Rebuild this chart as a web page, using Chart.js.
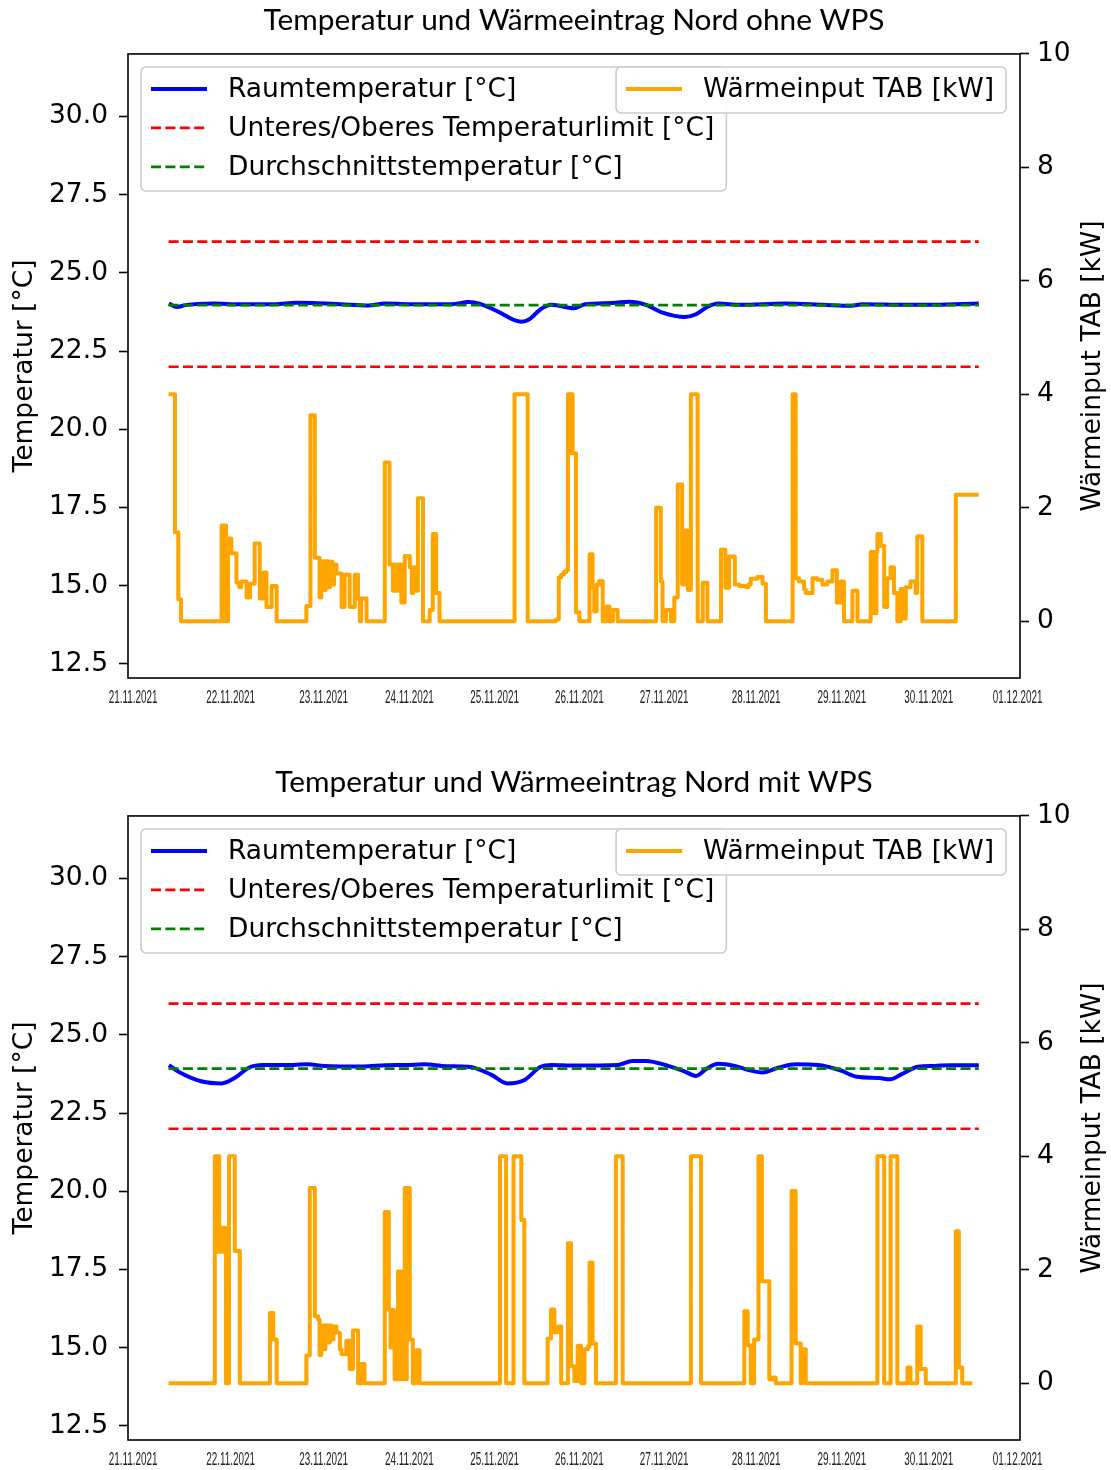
<!DOCTYPE html>
<html>
<head>
<meta charset="utf-8">
<script src="https://cdn.jsdelivr.net/npm/chart.js@4.4.1/dist/chart.umd.min.js"></script>
<style>
html,body{margin:0;padding:0;background:#fff;}
#wrap{position:relative;width:1111px;height:1470px;overflow:hidden;}
canvas{position:absolute;left:0;}
#c1{top:0;}
#c2{top:762px;}
</style>
</head>
<body>
<div id="wrap">
<canvas id="c1" width="1111" height="735"></canvas>
<canvas id="c2" width="1111" height="708"></canvas>
</div>
<script>
// ---------- DATA ----------
const titleOhne = 'Temperatur und Wärmeeintrag Nord ohne WPS';
const titleMit = 'Temperatur und Wärmeeintrag Nord mit WPS';
const leftAxisTitle = 'Temperatur [°C]';
const rightAxisTitle = 'Wärmeinput TAB [kW]';

// x axis: hours since start of period (21.11.2021, 10 days of data)
const xTickHours = [-10.5, 18.4, 45.9, 71.3, 96.5, 121.6, 146.7, 173.9, 199.3, 225.0, 251.3];
const xTickLabels = ['21.11.2021','22.11.2021','23.11.2021','24.11.2021','25.11.2021','26.11.2021','27.11.2021','28.11.2021','29.11.2021','30.11.2021','01.12.2021'];
const tempTicks = [12.5, 15, 17.5, 20, 22.5, 25, 27.5, 30];
const kwTicks = [0, 2, 4, 6, 8, 10];

const periodStart = 0, periodEnd = 239.8;
const upperLimit = 26, lowerLimit = 22;
const avgOhne = 23.97, avgMit = 23.92;

// Raumtemperatur, ohne WPS
const tempHoursOhne = [0.1, 2.5, 5.0, 13.2, 21.4, 31.3, 37.9, 42.8, 51.0, 59.2, 64.1, 74.0, 83.8, 88.8, 92.0, 97.0, 104.4, 106.8, 110.1, 113.4, 119.9, 123.3, 131.4, 136.4, 141.3, 146.2, 152.8, 156.1, 159.4, 162.7, 169.2, 182.4, 193.8, 202.1, 205.3, 218.5, 226.7, 239.8];
const tempOhne = [24.02, 23.91, 23.97, 24.02, 24.00, 24.00, 24.05, 24.04, 24.00, 23.96, 24.02, 24.00, 24.00, 24.07, 24.02, 23.79, 23.44, 23.52, 23.84, 23.98, 23.87, 24.00, 24.04, 24.08, 23.98, 23.73, 23.59, 23.68, 23.91, 24.02, 23.98, 24.02, 23.98, 23.95, 24.00, 23.98, 23.98, 24.02];

// Wärmeinput TAB, ohne WPS (change points, value holds until next point)
const tabHoursOhne = [0, 1.9, 2.9, 3.7,
  15.7, 16.2, 16.5, 17.0, 17.6, 18.6, 20.1, 20.9, 21.5, 23.1, 24.1, 25.5, 27.0, 28.0, 29.0, 30.5, 32.0,
  40.8, 42.0, 43.3, 44.7, 45.2, 46.0, 46.5, 47.3, 47.8, 48.5, 49.0, 49.7, 51.2, 52.1, 53.6, 55.1, 56.1, 56.6, 57.0, 58.6,
  64.0, 65.4, 66.4, 67.2, 67.9, 68.4, 68.9, 69.9, 71.4, 72.0, 72.4, 72.8, 73.8, 75.3, 77.3, 78.2, 79.2, 80.2,
  102.4, 106.3, 114.7, 115.5, 116.2, 117.0, 117.7, 118.2, 118.7, 119.0, 119.6, 120.6, 121.6,
  124.6, 125.5, 126.0, 126.7, 127.5, 128.5, 129.5, 130.5, 131.5, 132.9,
  144.3, 145.7, 146.2, 147.2, 148.7, 149.7, 150.7, 152.0, 152.4, 152.9, 153.3, 153.7, 154.6, 156.6, 158.1, 159.5,
  163.5, 164.8, 165.9, 167.6, 168.9, 170.9, 171.6, 172.3, 174.3, 175.8, 176.8,
  184.7, 185.6, 186.6, 188.1, 188.6, 190.6, 192.0, 193.5, 195.0, 196.5, 197.8, 198.9, 199.9,
  202.4, 203.9, 207.8, 208.8, 209.5, 209.8, 210.8, 211.8, 212.7, 213.7, 214.7, 215.7, 216.7, 217.7, 218.2, 219.6, 221.1, 221.6, 223.1,
  233.0, 239.8];
const tabOhne = [4.0, 1.57, 0.39, 0,
  1.69, 0, 1.69, 0, 1.46, 1.2, 0.68, 0.6, 0.7, 0.42, 0.66, 1.37, 0.4, 0.86, 0.25, 0.62, 0,
  0.27, 3.63, 1.12, 0.42, 1.06, 0.55, 1.06, 0.6, 1.05, 0.65, 1.0, 0.84, 0.25, 0.82, 0.25, 0.82, 0.4, 0, 0.4, 0,
  2.8, 1.0, 0.54, 1.0, 0.54, 1.0, 0.33, 1.15, 0.95, 0.5, 0.95, 0.54, 2.17, 0, 0.2, 1.54, 0.5, 0,
  4.0, 0, 0.03, 0.77, 0.82, 0.87, 0.9, 4.0, 2.96, 4.0, 2.96, 0.16, 0,
  1.18, 0.6, 0.17, 0.65, 0.71, 0, 0.26, 0, 0.2, 0,
  2.0, 0.7, 0, 0.2, 0, 0.42, 2.41, 0.65, 1.6, 0.65, 1.6, 0.55, 4.0, 0, 0.68, 0,
  1.26, 0.59, 1.14, 0.65, 0.62, 0.6, 0.65, 0.75, 0.78, 0.66, 0,
  4.0, 0.76, 0.7, 0.56, 0.5, 0.76, 0.73, 0.65, 0.7, 0.9, 0.33, 0.7, 0,
  0.54, 0, 1.22, 0.14, 1.22, 1.54, 1.33, 0.25, 0.76, 0.95, 0.5, 0, 0.57, 0.05, 0.6, 0.7, 0.5, 1.5, 0,
  2.23, 2.23];

// Raumtemperatur, mit WPS
const tempHoursMit = [0.1, 3.37, 9.94, 15.69, 19.79, 23.90, 28.00, 34.57, 41.14, 46.07, 57.56, 64.13, 70.70, 75.63, 82.20, 88.76, 95.33, 100.26, 105.19, 110.11, 113.40, 119.97, 133.10, 137.21, 141.31, 147.88, 152.81, 156.09, 159.38, 162.66, 167.59, 170.87, 175.80, 180.73, 185.65, 192.22, 198.79, 203.72, 210.29, 213.57, 216.86, 221.78, 226.71, 231.64, 239.8];
const tempMit = [24.03, 23.80, 23.51, 23.45, 23.64, 23.96, 24.04, 24.04, 24.06, 24.01, 23.99, 24.03, 24.04, 24.06, 24.00, 23.98, 23.74, 23.45, 23.55, 23.98, 24.04, 24.02, 24.04, 24.17, 24.17, 24.01, 23.83, 23.69, 23.93, 24.08, 24.01, 23.90, 23.80, 23.96, 24.06, 24.04, 23.87, 23.66, 23.62, 23.58, 23.74, 23.98, 24.01, 24.03, 24.03];

// Wärmeinput TAB, mit WPS
const tabHoursMit = [0, 13.7, 14.2, 14.5, 15.0, 15.2, 15.6, 16.0, 16.4, 16.8, 17.0, 17.9, 19.6, 21.1,
  30.0, 31.0, 32.0,
  40.8, 41.8, 43.3, 44.3, 44.7, 45.2, 45.9, 46.4, 47.2, 47.7, 48.2, 48.8, 49.7, 50.7, 51.2, 52.6, 53.6, 54.6, 56.1, 57.1, 58.0,
  64.0, 65.2, 65.7, 66.2, 66.7, 66.9, 67.9, 68.3, 68.7, 69.4, 69.9, 70.3, 70.5, 71.4, 72.3, 73.3, 74.3,
  98.1, 99.9, 102.1, 104.4, 105.3,
  112.2, 113.2, 114.2, 115.2, 116.2, 118.2, 119.1, 120.1, 121.1, 122.1, 123.1, 124.1, 124.6, 125.5, 126.5,
  132.4, 134.4,
  154.6, 157.6,
  170.4, 171.4, 172.3, 173.3, 174.6, 175.6, 177.8, 178.7, 179.7,
  184.4, 185.6, 187.1, 187.6, 188.6,
  209.8, 211.8, 213.7, 215.7, 218.7, 219.6, 221.6, 222.6, 224.1,
  233.0, 233.9, 234.9, 237.9];
const tabMit = [0, 4.0, 2.32, 4.0, 2.32, 2.74, 2.32, 2.74, 2.32, 2.74, 0, 4.0, 2.33, 0,
  1.24, 0.77, 0,
  0.49, 3.44, 1.18, 1.12, 0.5, 1.02, 0.6, 1.02, 0.72, 1.02, 0.77, 1.0, 0.89, 0.6, 0.51, 0.75, 0.25, 0.93, 0, 0.34, 0,
  3.02, 1.29, 0.63, 1.29, 0.63, 0.07, 1.97, 0.07, 1.97, 0.07, 3.44, 0.07, 3.44, 0.77, 0, 0.58, 0,
  4.0, 0, 4.0, 2.88, 0,
  0.79, 1.3, 0.9, 1.0, 0, 2.47, 0.3, 0.04, 0.66, 0, 0.6, 0.65, 2.13, 0.7, 0,
  4.0, 0,
  4.0, 0,
  1.27, 0.67, 0, 0.77, 4.0, 1.8, 0.07, 0.1, 0,
  3.39, 0.7, 0, 0.6, 0,
  4.0, 0, 4.0, 0, 0.28, 0, 1.0, 0.25, 0,
  2.68, 0.28, 0, 0];

// ---------- STYLE ----------
const BLUE = '#0000ff', RED = '#ff0000', GREEN = '#008000', ORANGE = '#ffa500';
const MAIN_FONT = '"DejaVu Sans", sans-serif';
const MAIN_SIZE = 26.5;
const DATE_FONT = '"Liberation Sans", Arial, sans-serif';
const DATE_SIZE = 18;
const DATE_SQUEEZE = 0.55;
const DASH = [10, 4.4];

function pts(xs, ys) { return xs.map((x, i) => ({ x: x, y: ys[i] })); }
function flat(v) { return [{ x: periodStart, y: v }, { x: periodEnd, y: v }]; }

function drawLegend(ctx, items, x, y, anchor) {
  if (!items.length) return;
  ctx.save();
  ctx.font = MAIN_SIZE + 'px ' + MAIN_FONT;
  const tw = Math.max(...items.map(d => ctx.measureText(d.label).width));
  const w = 87 + tw + 12;
  const h = 22 + 39 * (items.length - 1) + 24;
  const left = anchor === 'left' ? x : x - w;
  ctx.beginPath();
  ctx.roundRect(left, y, w, h, 5);
  ctx.fillStyle = 'rgba(255,255,255,0.85)';
  ctx.fill();
  ctx.lineWidth = 1.6;
  ctx.strokeStyle = '#cccccc';
  ctx.stroke();
  items.forEach((d, i) => {
    const cy = y + 22 + 39 * i;
    ctx.beginPath();
    ctx.setLineDash(d.borderDash || []);
    ctx.strokeStyle = d.borderColor;
    ctx.lineWidth = d.borderWidth;
    ctx.moveTo(left + 10, cy);
    ctx.lineTo(left + 66, cy);
    ctx.stroke();
    ctx.setLineDash([]);
    ctx.fillStyle = '#000';
    ctx.textAlign = 'left';
    ctx.textBaseline = 'middle';
    ctx.fillText(d.label, left + 87, cy + 1);
  });
  ctx.restore();
}

const decorPlugin = {
  id: 'decor',
  afterDatasetsDraw(chart, args, opts) {
    const ctx = chart.ctx, a = chart.chartArea;
    ctx.save();
    ctx.strokeStyle = '#000';
    ctx.lineWidth = 1.6;
    ctx.strokeRect(a.left, a.top, a.right - a.left, a.bottom - a.top);
    ctx.restore();
    const ds = chart.data.datasets;
    const g1 = ds.filter(d => d.legendBox === 1).sort((p, q) => p.legendRank - q.legendRank);
    const g2 = ds.filter(d => d.legendBox === 2);
    drawLegend(ctx, g1, a.left + 13, a.top + 13, 'left');
    drawLegend(ctx, g2, a.right - 14, a.top + 13, 'right');
    // right axis title (reads bottom to top)
    ctx.save();
    ctx.font = MAIN_SIZE + 'px ' + MAIN_FONT;
    ctx.fillStyle = '#000';
    ctx.translate(chart.width - 18, (a.top + a.bottom) / 2);
    ctx.rotate(-Math.PI / 2);
    ctx.textAlign = 'center';
    ctx.textBaseline = 'middle';
    ctx.fillText(opts.rightTitle, 0, 0);
    ctx.restore();
    // condensed date labels at the x-scale tick positions
    const xs = chart.scales.x;
    ctx.save();
    ctx.font = DATE_SIZE + 'px ' + DATE_FONT;
    ctx.fillStyle = '#222';
    ctx.textAlign = 'center';
    ctx.textBaseline = 'middle';
    xs.ticks.forEach((t, i) => {
      const px = xs.getPixelForValue(t.value);
      ctx.save();
      ctx.translate(px, a.bottom + 20);
      ctx.scale(DATE_SQUEEZE, 1);
      ctx.fillText(xTickLabels[i], 0, 0);
      ctx.restore();
    });
    ctx.restore();
  }
};

function buildChart(id, title, tH, tV, kH, kV, avg) {
  const canvas = document.getElementById(id);
  const H = canvas.height;
  const datasets = [
    { label: rightAxisTitle, data: pts(kH, kV), yAxisID: 'y2', borderColor: ORANGE, borderWidth: 4,
      stepped: 'before', pointRadius: 0, order: 0, borderJoinStyle: 'round', legendBox: 2, legendRank: 0 },
    { label: 'Durchschnittstemperatur [°C]', data: flat(avg), yAxisID: 'y', borderColor: GREEN, borderWidth: 2.7,
      borderDash: DASH, pointRadius: 0, order: 1, legendBox: 1, legendRank: 2 },
    { label: 'Unteres/Oberes Temperaturlimit [°C]', data: flat(upperLimit), yAxisID: 'y', borderColor: RED, borderWidth: 2.7,
      borderDash: DASH, pointRadius: 0, order: 2, legendBox: 1, legendRank: 1 },
    { label: 'Unteres/Oberes Temperaturlimit [°C]', data: flat(lowerLimit), yAxisID: 'y', borderColor: RED, borderWidth: 2.7,
      borderDash: DASH, pointRadius: 0, order: 2, legendBox: 0 },
    { label: 'Raumtemperatur [°C]', data: pts(tH, tV), yAxisID: 'y', borderColor: BLUE, borderWidth: 4,
      cubicInterpolationMode: 'monotone', tension: 0.4, pointRadius: 0, order: 3, legendBox: 1, legendRank: 0 }
  ];
  return new Chart(canvas, {
    type: 'line',
    data: { datasets: datasets },
    plugins: [decorPlugin],
    options: {
      responsive: false,
      animation: false,
      layout: { padding: 0 },
      plugins: {
        legend: { display: false },
        tooltip: { enabled: false },
        title: { display: true, text: title, fullSize: false, color: '#000',
          font: { family: 'Lato, "Open Sans", sans-serif', size: 29.8, weight: 'normal', lineHeight: 1.2 },
          padding: { top: 2.5, bottom: 15.7 } },
        decor: { rightTitle: rightAxisTitle }
      },
      scales: {
        x: {
          type: 'linear', min: -12, max: 252,
          afterBuildTicks: s => { s.ticks = xTickHours.map(v => ({ value: v })); },
          afterFit: s => { s.height = H - 678; },
          ticks: { display: false, autoSkip: false, maxRotation: 0, minRotation: 0 },
          grid: { drawOnChartArea: false, drawTicks: false },
          border: { display: false }
        },
        y: {
          position: 'left', min: 12.05, max: 32.0,
          afterBuildTicks: s => { s.ticks = tempTicks.map(v => ({ value: v })); },
          afterFit: s => { s.width = 128; },
          ticks: { padding: 11, color: '#000', font: { family: MAIN_FONT, size: MAIN_SIZE },
            callback: v => Number(v).toFixed(1) },
          grid: { drawOnChartArea: false, drawTicks: true, tickLength: 9, tickWidth: 1.6, tickColor: '#000' },
          border: { display: false },
          title: { display: true, text: leftAxisTitle, color: '#000', font: { family: MAIN_FONT, size: MAIN_SIZE },
            padding: { top: 9, bottom: 0 } }
        },
        y2: {
          position: 'right', min: -1, max: 10,
          afterBuildTicks: s => { s.ticks = kwTicks.map(v => ({ value: v })); },
          afterFit: s => { s.width = 91; },
          ticks: { padding: 8, color: '#000', font: { family: MAIN_FONT, size: MAIN_SIZE },
            callback: v => String(v) },
          grid: { drawOnChartArea: false, drawTicks: true, tickLength: 9, tickWidth: 1.6, tickColor: '#000' },
          border: { display: false }
        }
      }
    }
  });
}

buildChart('c1', titleOhne, tempHoursOhne, tempOhne, tabHoursOhne, tabOhne, avgOhne);
buildChart('c2', titleMit, tempHoursMit, tempMit, tabHoursMit, tabMit, avgMit);
</script>
</body>
</html>
